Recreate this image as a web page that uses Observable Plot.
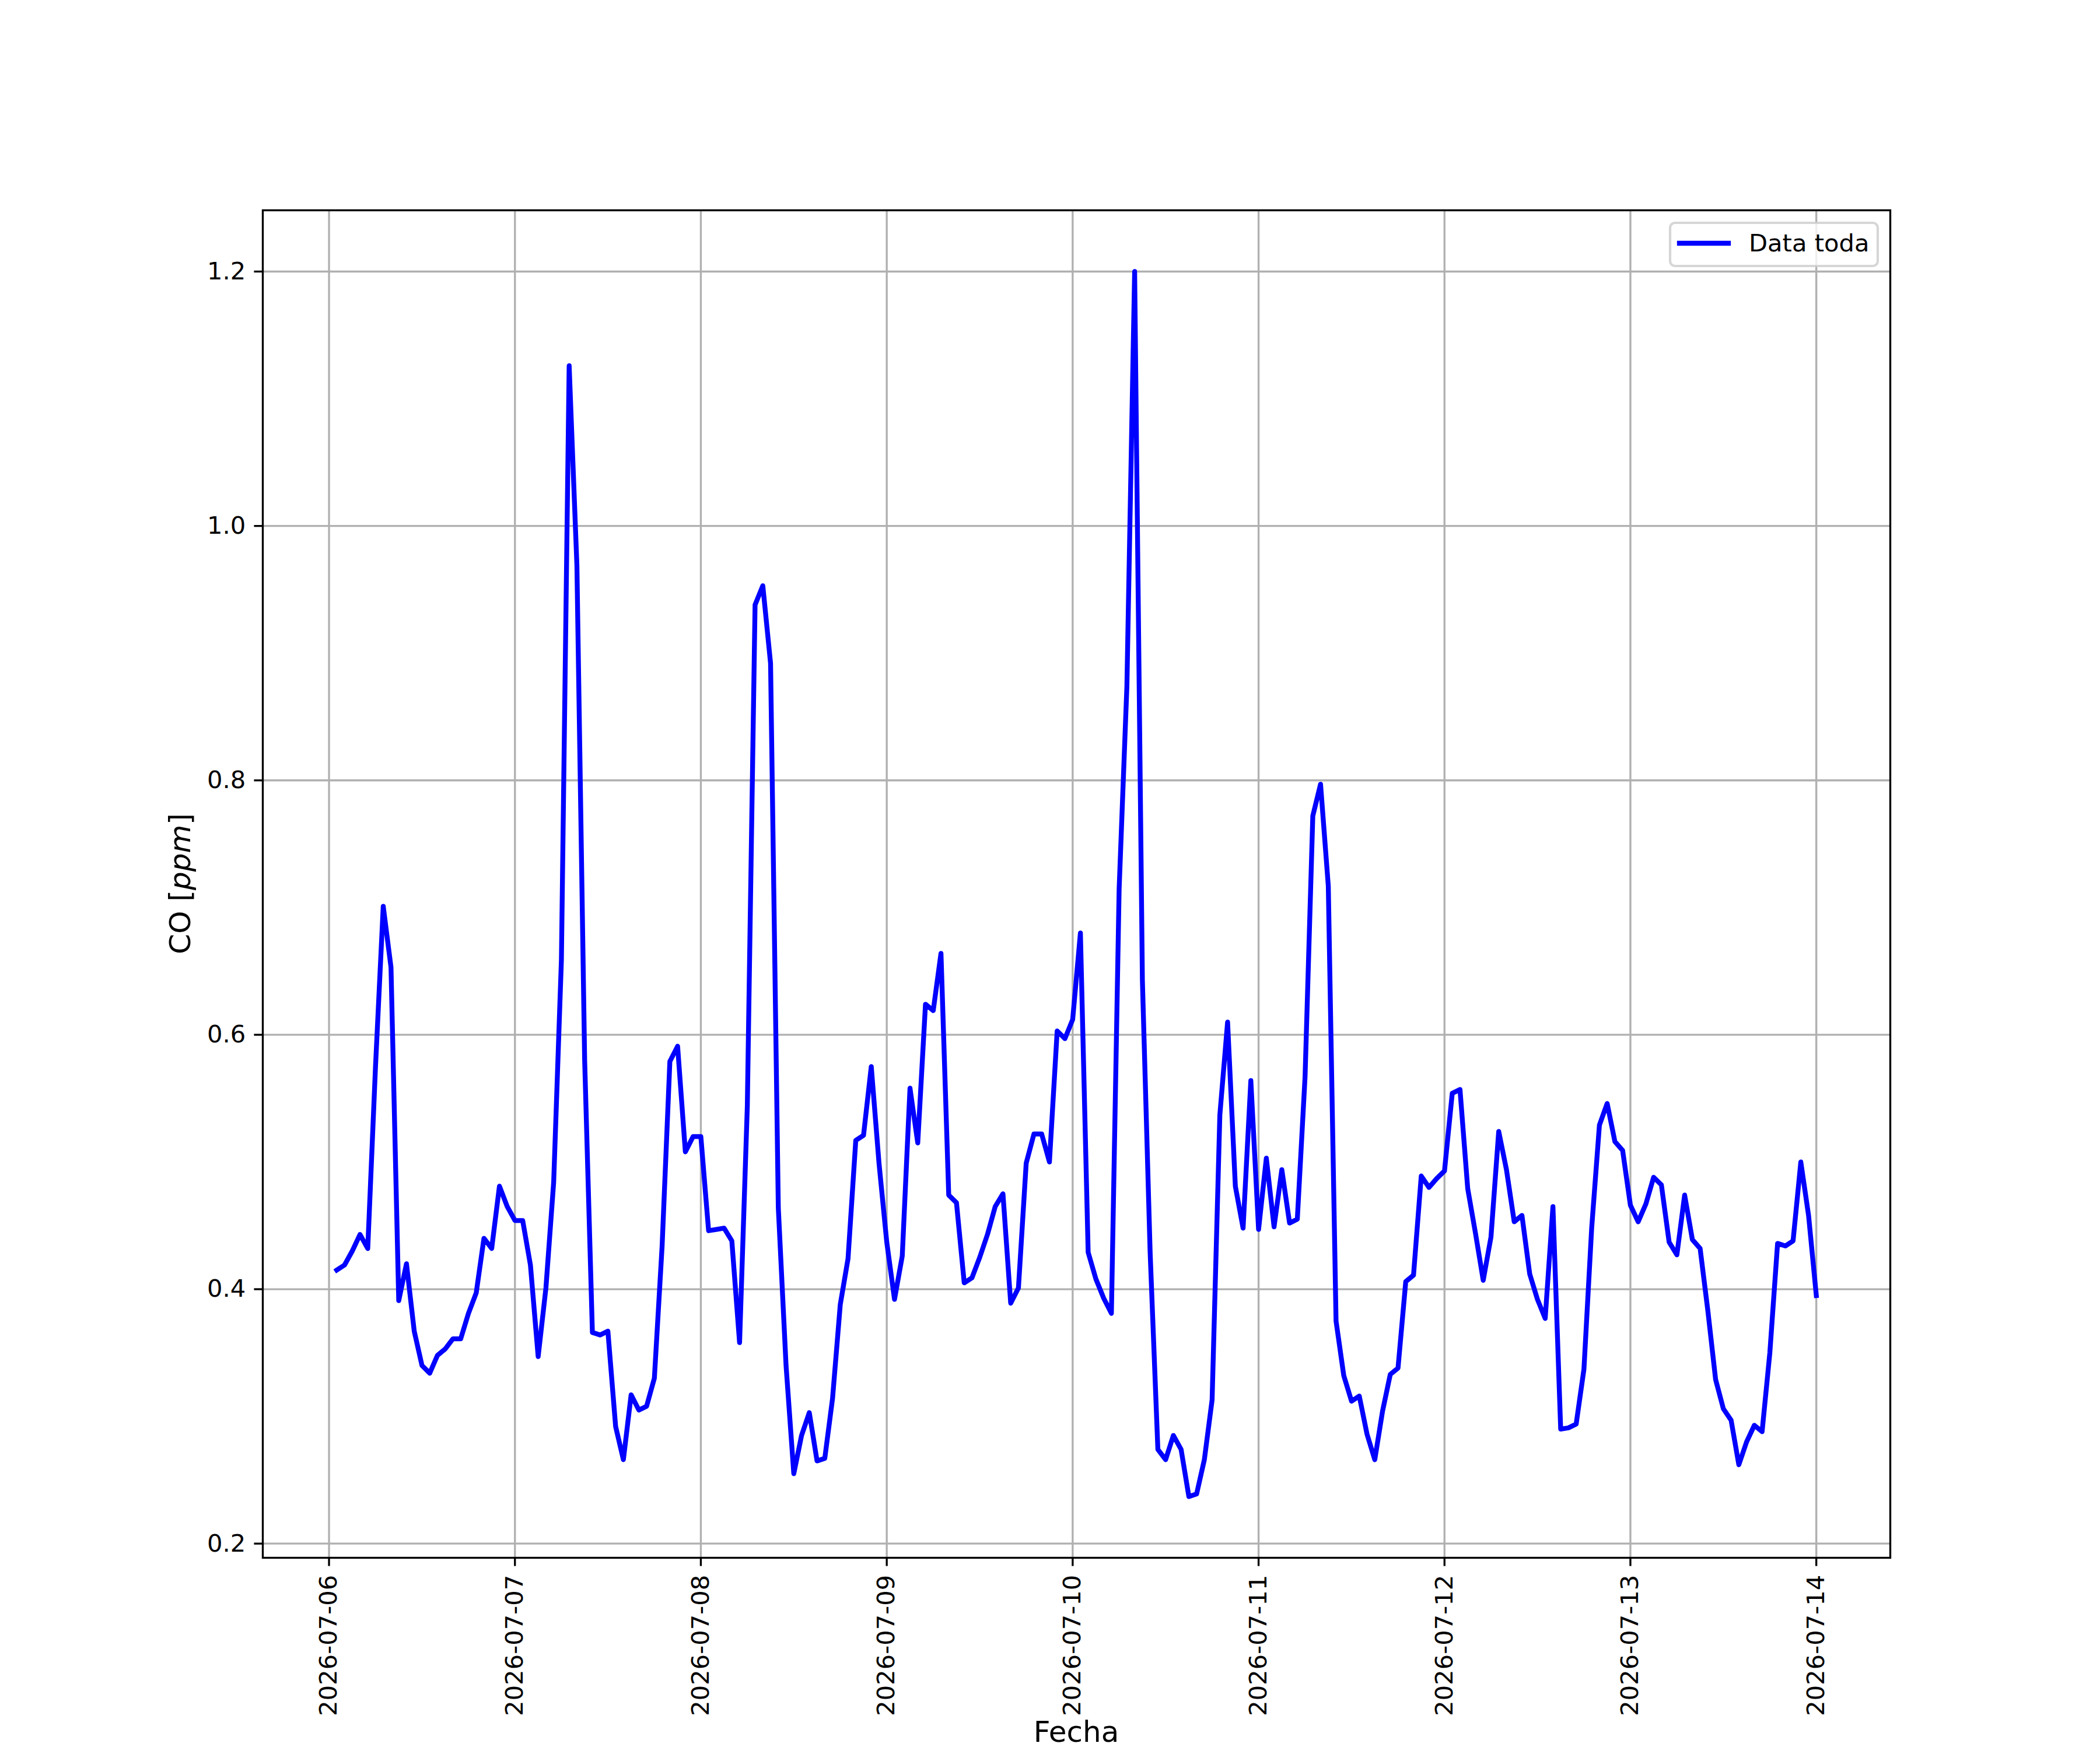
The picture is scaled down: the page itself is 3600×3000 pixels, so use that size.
<!DOCTYPE html>
<html>
<head>
<meta charset="utf-8">
<script src="https://cdn.jsdelivr.net/npm/d3@7"></script>
<script src="https://cdn.jsdelivr.net/npm/@observablehq/plot@0.6"></script>
<style>
  html, body { margin: 0; padding: 0; background: #ffffff; }
  #chart svg { display: block; max-width: none; }
</style>
</head>
<body>
<div id="chart"></div>
<script>
// ---- data (hourly CO readings, ppm) ----
const startISO = "2026-07-06T01:00:00Z"; // first reading, one per hour afterwards
const day06 = [0.415,0.419,0.430,0.443,0.432,0.575,0.701,0.653,0.391,0.420,0.367,0.340,0.334,0.348,0.353,0.361,0.361,0.381,0.397,0.440,0.432,0.481,0.465,0.454];
const day07 = [0.454,0.419,0.347,0.401,0.484,0.659,1.126,0.969,0.580,0.366,0.364,0.367,0.292,0.266,0.317,0.305,0.308,0.330,0.434,0.579,0.591,0.508,0.520,0.520];
const day08 = [0.446,0.447,0.448,0.438,0.358,0.544,0.938,0.953,0.892,0.464,0.340,0.255,0.285,0.303,0.265,0.267,0.314,0.388,0.424,0.517,0.521,0.575,0.499,0.437];
const day09 = [0.392,0.426,0.558,0.515,0.624,0.619,0.664,0.474,0.468,0.405,0.409,0.425,0.443,0.465,0.475,0.389,0.401,0.499,0.522,0.522,0.500,0.603,0.597,0.612];
const day10 = [0.680,0.429,0.408,0.393,0.381,0.715,0.874,1.200,0.643,0.429,0.274,0.266,0.285,0.274,0.237,0.239,0.266,0.313,0.537,0.610,0.481,0.448,0.564,0.447];
const day11 = [0.503,0.449,0.494,0.452,0.455,0.567,0.772,0.797,0.717,0.375,0.332,0.312,0.316,0.286,0.266,0.304,0.333,0.338,0.406,0.411,0.489,0.480,0.487,0.493];
const day12 = [0.554,0.557,0.479,0.444,0.407,0.441,0.524,0.494,0.453,0.458,0.412,0.392,0.377,0.465,0.290,0.291,0.294,0.337,0.448,0.529,0.546,0.516,0.509,0.466];
const day13 = [0.453,0.467,0.488,0.482,0.437,0.427,0.474,0.439,0.432,0.383,0.329,0.306,0.297,0.262,0.280,0.293,0.288,0.350,0.436,0.434,0.438,0.500,0.458,0.395];

const xTickLabels = ["2026-07-06","2026-07-07","2026-07-08","2026-07-09","2026-07-10","2026-07-11","2026-07-12","2026-07-13","2026-07-14"];
const yTicks = [0.2, 0.4, 0.6, 0.8, 1.0, 1.2];
const seriesName = "Data toda";
const xLabelText = "Fecha";
const yLabelMain = "CO ";
const yLabelUnit = "ppm";

// ---- build table ----
const values = [].concat(day06, day07, day08, day09, day10, day11, day12, day13);
const t0 = new Date(startISO).getTime();
const table = values.map((v, i) => ({date: new Date(t0 + i * 3600e3), co: v}));
const tickDates = xTickLabels.map(s => new Date(s + "T00:00:00Z"));

// matplotlib-like 5% autoscale margins
const tMin = +table[0].date, tMax = +table[table.length - 1].date;
const tPad = (tMax - tMin) * 0.05;
const vMin = d3.min(values), vMax = d3.max(values);
const vPad = (vMax - vMin) * 0.05;

const W = 3600, H = 3000;
const lw = 3.333;          // 0.8pt at 300 dpi
const tick = 14.58;        // 3.5pt
const fs = 41.67;          // 10pt
const fsLabel = 50;        // 12pt
const font = "'DejaVu Sans', 'Liberation Sans', sans-serif";

const chart = Plot.plot({
  width: W,
  height: H,
  marginLeft: 450,
  marginRight: 360,
  marginTop: 360,
  marginBottom: 330,
  style: {fontFamily: font, fontSize: fs + "px", background: "#ffffff", color: "#000000"},
  x: {type: "utc", domain: [new Date(tMin - tPad), new Date(tMax + tPad)]},
  y: {domain: [vMin - vPad, vMax + vPad]},
  marks: [
    Plot.gridX(tickDates, {stroke: "#b0b0b0", strokeOpacity: 1, strokeWidth: lw}),
    Plot.gridY(yTicks, {stroke: "#b0b0b0", strokeOpacity: 1, strokeWidth: lw}),
    Plot.line(table, {x: "date", y: "co", stroke: "#0000ff", strokeWidth: 8.33,
      strokeLinejoin: "round", strokeLinecap: "square"}),
    Plot.frame({stroke: "#000000", strokeWidth: lw}),
    Plot.axisX(tickDates, {tickFormat: d3.utcFormat("%Y-%m-%d"), tickSize: tick, tickPadding: tick,
      tickRotate: -90, strokeWidth: lw, stroke: "#000000", fill: "#000000", label: null, fontSize: fs}),
    Plot.axisY(yTicks, {tickFormat: d3.format(".1f"), tickSize: tick, tickPadding: tick,
      strokeWidth: lw, stroke: "#000000", fill: "#000000", label: null, fontSize: fs})
  ]
});

const svg = d3.select(chart);

// y label
const yl = svg.append("text")
  .attr("transform", `translate(326, ${(360 + 2670) / 2}) rotate(-90)`)
  .attr("text-anchor", "middle")
  .attr("font-family", font)
  .attr("font-size", fsLabel)
  .attr("fill", "#000");
yl.append("tspan").text(yLabelMain + "[");
yl.append("tspan").attr("font-style", "italic").text(yLabelUnit);
yl.append("tspan").text("]");

// x label
svg.append("text")
  .attr("x", (450 + 3240) / 2)
  .attr("y", 2986)
  .attr("text-anchor", "middle")
  .attr("font-family", font)
  .attr("font-size", fsLabel)
  .attr("fill", "#000")
  .text(xLabelText);

// legend (upper right)
const lg = svg.append("g");
lg.append("rect")
  .attr("x", 2863).attr("y", 382).attr("width", 356).attr("height", 74)
  .attr("rx", 8.3).attr("ry", 8.3)
  .attr("fill", "#ffffff").attr("fill-opacity", 0.8)
  .attr("stroke", "#cccccc").attr("stroke-opacity", 0.8).attr("stroke-width", 4.17);
lg.append("line")
  .attr("x1", 2879).attr("x2", 2963).attr("y1", 417).attr("y2", 417)
  .attr("stroke", "#0000ff").attr("stroke-width", 8.33).attr("stroke-linecap", "square");
lg.append("text")
  .attr("x", 2998).attr("y", 431)
  .attr("text-anchor", "start")
  .attr("font-family", font).attr("font-size", fs).attr("fill", "#000")
  .text(seriesName);

document.getElementById("chart").appendChild(chart);
</script>
</body>
</html>
